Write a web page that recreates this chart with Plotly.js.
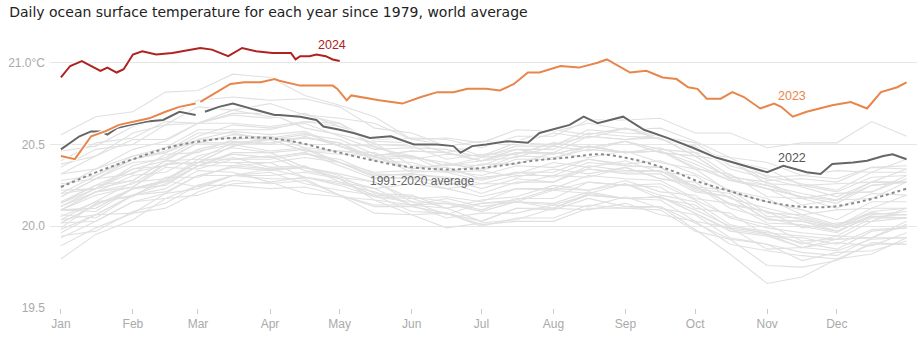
<!DOCTYPE html>
<html><head><meta charset="utf-8">
<script src="https://cdn.plot.ly/plotly-3.0.1.min.js"></script>
<style>html,body{margin:0;padding:0;background:#fff}#chart{width:917px;height:351px}</style>
</head><body><div id="chart"></div>
<script>
// ---- tick labels ----
const monthDays = [1, 32, 60, 91, 121, 152, 182, 213, 244, 274, 305, 335];
const monthNames = ["Jan","Feb","Mar","Apr","May","Jun","Jul","Aug","Sep","Oct","Nov","Dec"];
const yTickVals = [19.5, 20.0, 20.5, 21.0];
const yTickText = ["19.5", "20.0", "20.5", "21.0°C"];

// ---- grey years (semi-monthly readings) ----
const greyDays = [1,16,32,46,60,75,91,106,121,136,152,167,182,197,213,228,244,259,274,289,305,320,335,350,365];
const g1979 = [19.99,20.14,20.19,20.28,20.24,20.31,20.35,20.30,20.26,20.21,20.13,20.17,20.12,20.15,20.11,20.19,20.17,20.18,20.08,19.97,19.94,19.87,19.90,19.88,19.96];
const g1980 = [20.07,20.05,20.19,20.23,20.34,20.33,20.27,20.30,20.25,20.18,20.15,20.07,20.14,20.15,20.22,20.20,20.26,20.17,20.13,19.99,19.96,19.94,19.92,20.03,20.05];
const g1981 = [19.93,20.03,20.15,20.17,20.25,20.31,20.29,20.29,20.19,20.13,20.13,20.11,20.03,20.11,20.11,20.20,20.17,20.16,20.03,19.99,19.86,19.87,19.85,19.92,19.93];
const g1982 = [19.80,19.95,20.04,20.17,20.19,20.26,20.27,20.20,20.18,20.16,20.07,20.08,20.03,20.11,20.10,20.17,20.12,20.12,19.98,19.83,19.65,19.69,19.80,19.83,19.93];
const g1983 = [20.10,20.09,20.23,20.28,20.39,20.39,20.35,20.36,20.29,20.16,20.13,20.05,20.08,20.08,20.13,20.12,20.18,20.11,20.07,19.93,19.89,19.84,19.82,19.93,19.93];
const g1984 = [19.88,19.99,20.08,20.11,20.21,20.28,20.26,20.28,20.19,20.12,20.12,20.08,20.00,20.05,20.05,20.13,20.11,20.10,19.97,19.92,19.76,19.75,19.79,19.90,19.89];
const g1985 = [19.96,20.07,20.08,20.20,20.23,20.31,20.33,20.26,20.22,20.19,20.09,20.08,20.01,20.03,20.03,20.11,20.11,20.12,20.02,19.92,19.89,19.79,19.84,19.85,19.91];
const g1986 = [20.02,20.03,20.15,20.20,20.31,20.31,20.31,20.33,20.29,20.18,20.17,20.11,20.14,20.16,20.23,20.22,20.28,20.21,20.19,20.05,19.99,19.96,19.94,20.05,20.05];
const g1987 = [20.10,20.21,20.31,20.33,20.43,20.48,20.45,20.47,20.39,20.31,20.32,20.30,20.26,20.31,20.31,20.39,20.37,20.36,20.24,20.22,20.08,20.07,20.01,20.08,20.07];
const g1988 = [20.15,20.25,20.28,20.40,20.37,20.45,20.45,20.36,20.32,20.27,20.15,20.14,20.09,20.15,20.13,20.19,20.17,20.18,20.08,19.98,19.95,19.87,19.92,19.93,20.01];
const g1989 = [19.94,19.97,20.09,20.14,20.25,20.25,20.23,20.24,20.19,20.08,20.07,19.99,20.02,20.04,20.11,20.10,20.14,20.07,20.03,19.89,19.85,19.82,19.80,19.89,19.89];
const g1990 = [20.04,20.15,20.27,20.29,20.39,20.44,20.42,20.45,20.37,20.29,20.30,20.27,20.20,20.27,20.27,20.35,20.32,20.32,20.21,20.18,20.04,20.03,19.99,20.06,20.05];
const g1991 = [20.10,20.11,20.23,20.28,20.39,20.39,20.39,20.42,20.39,20.30,20.29,20.23,20.26,20.26,20.31,20.30,20.36,20.29,20.27,20.13,20.09,20.04,20.00,20.09,20.11];
const g1992 = [20.10,20.21,20.24,20.36,20.35,20.41,20.43,20.34,20.30,20.27,20.17,20.18,20.15,20.23,20.22,20.27,20.25,20.26,20.16,20.06,20.01,19.91,19.92,19.93,20.03];
const g1993 = [20.04,20.07,20.19,20.26,20.37,20.37,20.35,20.36,20.31,20.20,20.19,20.11,20.16,20.18,20.25,20.22,20.26,20.19,20.15,20.01,19.95,19.90,19.86,19.97,19.99];
const g1994 = [19.98,20.07,20.19,20.21,20.31,20.36,20.34,20.36,20.29,20.23,20.26,20.23,20.18,20.23,20.23,20.31,20.29,20.28,20.17,20.14,20.02,20.01,19.97,20.06,20.05];
const g1995 = [20.14,20.25,20.35,20.37,20.46,20.50,20.46,20.48,20.39,20.31,20.32,20.29,20.23,20.29,20.27,20.37,20.34,20.34,20.22,20.18,20.04,20.03,19.97,20.06,20.07];
const g1996 = [20.06,20.15,20.18,20.30,20.30,20.37,20.39,20.30,20.27,20.23,20.13,20.14,20.09,20.15,20.14,20.21,20.17,20.18,20.10,20.00,19.97,19.89,19.94,19.93,20.01];
const g1997 = [20.10,20.19,20.24,20.38,20.39,20.49,20.55,20.50,20.50,20.49,20.41,20.44,20.43,20.51,20.50,20.55,20.53,20.56,20.48,20.40,20.35,20.25,20.26,20.27,20.35];
const g1998 = [20.38,20.43,20.57,20.62,20.73,20.71,20.67,20.68,20.63,20.48,20.43,20.33,20.34,20.30,20.35,20.32,20.36,20.29,20.25,20.11,20.05,20.00,19.96,20.07,20.09];
const g1999 = [20.02,20.13,20.23,20.27,20.37,20.42,20.36,20.37,20.27,20.19,20.18,20.15,20.10,20.17,20.17,20.27,20.25,20.24,20.11,20.08,19.94,19.93,19.89,19.98,19.99];
const g2001 = [20.18,20.29,20.32,20.44,20.45,20.53,20.55,20.48,20.46,20.43,20.33,20.34,20.31,20.37,20.36,20.41,20.38,20.40,20.32,20.22,20.17,20.07,20.10,20.11,20.19];
const g2002 = [20.22,20.23,20.37,20.42,20.53,20.54,20.53,20.56,20.53,20.44,20.43,20.37,20.40,20.42,20.49,20.46,20.52,20.47,20.45,20.31,20.25,20.20,20.16,20.27,20.27];
const g2003 = [20.24,20.35,20.43,20.45,20.53,20.58,20.56,20.58,20.49,20.41,20.42,20.39,20.34,20.41,20.41,20.49,20.45,20.46,20.35,20.32,20.18,20.17,20.11,20.20,20.19];
const g2005 = [20.26,20.29,20.41,20.46,20.57,20.57,20.53,20.54,20.51,20.40,20.39,20.33,20.38,20.38,20.45,20.42,20.46,20.39,20.35,20.21,20.15,20.10,20.04,20.15,20.15];
const g2006 = [20.14,20.23,20.28,20.40,20.41,20.51,20.53,20.46,20.46,20.45,20.35,20.38,20.35,20.43,20.42,20.47,20.45,20.48,20.40,20.30,20.27,20.17,20.20,20.21,20.31];
const g2008 = [20.10,20.11,20.23,20.28,20.41,20.41,20.41,20.44,20.41,20.32,20.31,20.25,20.30,20.32,20.39,20.36,20.40,20.33,20.31,20.17,20.11,20.06,20.00,20.11,20.11];
const g2009 = [20.12,20.23,20.33,20.37,20.47,20.52,20.50,20.55,20.49,20.43,20.46,20.45,20.40,20.45,20.45,20.55,20.53,20.54,20.43,20.40,20.26,20.25,20.21,20.30,20.31];
const g2010 = [20.40,20.51,20.54,20.64,20.63,20.69,20.69,20.60,20.56,20.51,20.37,20.36,20.29,20.33,20.30,20.35,20.33,20.34,20.24,20.14,20.09,19.99,20.02,20.03,20.11];
const g2011 = [20.02,20.13,20.23,20.25,20.37,20.44,20.42,20.45,20.39,20.33,20.34,20.33,20.28,20.33,20.33,20.41,20.37,20.36,20.23,20.20,20.06,20.05,19.99,20.08,20.07];
const g2012 = [20.12,20.21,20.26,20.38,20.39,20.49,20.53,20.46,20.44,20.43,20.35,20.38,20.37,20.45,20.44,20.49,20.45,20.46,20.38,20.28,20.23,20.13,20.16,20.17,20.27];
const g2013 = [20.20,20.23,20.35,20.40,20.51,20.51,20.51,20.54,20.51,20.42,20.43,20.37,20.42,20.44,20.51,20.48,20.52,20.45,20.43,20.29,20.23,20.18,20.16,20.25,20.27];
const g2014 = [20.28,20.31,20.43,20.48,20.59,20.59,20.59,20.64,20.63,20.52,20.51,20.45,20.50,20.50,20.57,20.54,20.60,20.55,20.51,20.37,20.31,20.26,20.22,20.33,20.33];
const g2015 = [20.32,20.43,20.53,20.53,20.63,20.68,20.66,20.69,20.61,20.53,20.54,20.53,20.48,20.55,20.55,20.65,20.65,20.66,20.57,20.57,20.48,20.51,20.51,20.64,20.55];
const g2016 = [20.56,20.67,20.70,20.82,20.83,20.93,20.91,20.80,20.74,20.67,20.53,20.50,20.43,20.47,20.44,20.49,20.45,20.46,20.36,20.28,20.25,20.17,20.20,20.21,20.29];
const g2017 = [20.32,20.35,20.47,20.52,20.63,20.63,20.61,20.64,20.61,20.50,20.49,20.41,20.44,20.44,20.51,20.48,20.52,20.45,20.43,20.29,20.23,20.18,20.14,20.25,20.27];
const g2018 = [20.18,20.29,20.39,20.41,20.51,20.56,20.54,20.57,20.49,20.43,20.46,20.45,20.40,20.47,20.47,20.57,20.55,20.54,20.43,20.40,20.28,20.29,20.27,20.36,20.37];
const g2019 = [20.36,20.47,20.50,20.62,20.63,20.71,20.75,20.68,20.66,20.63,20.53,20.54,20.51,20.59,20.58,20.63,20.59,20.60,20.52,20.42,20.39,20.31,20.34,20.33,20.41];
const g2020 = [20.46,20.49,20.61,20.66,20.77,20.79,20.77,20.78,20.73,20.60,20.57,20.49,20.52,20.52,20.59,20.56,20.60,20.53,20.49,20.35,20.29,20.24,20.18,20.27,20.27];
const g2021 = [20.20,20.31,20.41,20.45,20.55,20.62,20.60,20.63,20.55,20.47,20.48,20.47,20.42,20.49,20.49,20.59,20.57,20.56,20.45,20.42,20.30,20.31,20.29,20.36,20.35];
const greyYears = [g1979,g1980,g1981,g1982,g1983,g1984,g1985,g1986,g1987,g1988,g1989,g1990,g1991,g1992,g1993,g1994,g1995,g1996,g1997,g1998,g1999,g2001,g2002,g2003,g2005,g2006,g2008,g2009,g2010,g2011,g2012,g2013,g2014,g2015,g2016,g2017,g2018,g2019,g2020,g2021];

// ---- 1991-2020 average ----
const avgDays = [1,18,32,47,61,75,90,104,118,133,147,161,176,190,204,219,233,247,262,276,290,305,319,333,348,365];
const avgVals = [20.24,20.34,20.41,20.48,20.52,20.54,20.54,20.51,20.46,20.41,20.37,20.35,20.35,20.37,20.40,20.42,20.44,20.41,20.35,20.27,20.21,20.15,20.12,20.12,20.16,20.23];

// ---- 2022 ----
const days2022 = [1,4,9,14,18,21,25,31,38,45,52,59,60,63,69,75,80,87,93,95,104,111,114,121,127,134,143,153,163,170,173,178,184,193,202,207,215,220,226,232,243,252,262,273,283,293,305,312,322,328,333,342,348,355,359,365];
const vals2022 = [20.47,20.50,20.55,20.58,20.58,20.56,20.60,20.62,20.64,20.65,20.70,20.68,null,20.70,20.73,20.75,20.73,20.70,20.68,20.68,20.67,20.65,20.61,20.59,20.57,20.54,20.55,20.50,20.50,20.49,20.45,20.49,20.50,20.52,20.51,20.57,20.60,20.62,20.67,20.63,20.67,20.59,20.54,20.48,20.42,20.38,20.33,20.37,20.33,20.32,20.38,20.39,20.40,20.43,20.44,20.41];

// ---- 2023 ----
const days2023 = [1,7,14,20,26,33,39,46,52,59,60,61,67,74,80,87,93,95,104,113,118,120,124,126,133,138,148,156,163,170,176,184,190,196,202,207,216,224,232,236,246,253,260,266,271,275,279,285,290,295,302,308,311,316,322,333,341,348,354,361,365];
const vals2023 = [20.43,20.41,20.55,20.58,20.62,20.64,20.66,20.70,20.73,20.75,null,20.76,20.81,20.87,20.88,20.88,20.90,20.89,20.86,20.86,20.86,20.84,20.77,20.80,20.78,20.77,20.75,20.79,20.82,20.82,20.84,20.84,20.83,20.87,20.94,20.94,20.98,20.97,21.00,21.02,20.94,20.95,20.91,20.90,20.85,20.84,20.78,20.78,20.82,20.79,20.72,20.75,20.73,20.67,20.70,20.74,20.76,20.72,20.82,20.85,20.88];

// ---- 2024 ----
const days2024 = [1,5,10,15,18,21,25,28,32,36,42,49,56,61,66,73,79,85,92,100,102,104,108,111,115,118,121];
const vals2024 = [20.91,20.98,21.01,20.97,20.95,20.97,20.94,20.96,21.05,21.07,21.05,21.06,21.08,21.09,21.08,21.04,21.09,21.07,21.06,21.06,21.02,21.04,21.04,21.05,21.04,21.02,21.01];

const traces = [];
greyYears.forEach(v => traces.push({x: greyDays, y: v, type: 'scatter', mode: 'lines',
  line: {color: '#e0e0e0', width: 1.1}, hoverinfo: 'skip', showlegend: false}));
traces.push({x: avgDays, y: avgVals, type: 'scatter', mode: 'lines', line: {color: '#8a8a8a', width: 2, dash: 'dot', shape: 'spline'}, showlegend: false});
[[days2022, vals2022, '#666666'], [days2023, vals2023, '#e8854a'], [days2024, vals2024, '#ae2320']].forEach(s => {
  traces.push({x: s[0], y: s[1], type: 'scatter', mode: 'lines', line: {color: '#ffffff', width: 4}, showlegend: false, hoverinfo: 'skip'});
  traces.push({x: s[0], y: s[1], type: 'scatter', mode: 'lines', line: {color: s[2], width: 2}, showlegend: false});
});

const font = "'Liberation Sans', Arial, sans-serif";
const layout = {
  width: 917, height: 351,
  margin: {l: 50, r: 0, t: 30, b: 43},
  paper_bgcolor: '#fff', plot_bgcolor: '#fff',
  font: {family: font, color: '#aaa', size: 12},
  title: {text: 'Daily ocean surface temperature for each year since 1979, world average',
    x: 0.01, xanchor: 'left', y: 0.965, yanchor: 'middle', font: {family: "'DejaVu Sans', sans-serif", size: 14, color: '#222'}},
  xaxis: {range: [-3.7, 369.5], tickvals: monthDays, ticktext: monthNames, showgrid: false, zeroline: false,
    ticks: 'outside', ticklen: 5, tickcolor: '#ccc', showline: false, tickfont: {color: '#aaa', size: 12}, fixedrange: true},
  yaxis: {range: [19.5, 21.2], tickvals: yTickVals, ticktext: yTickText, showgrid: true, gridcolor: '#e6e6e6',
    zeroline: false, ticks: '', ticklabelstandoff: 4, tickfont: {color: '#aaa', size: 12}, fixedrange: true},
  annotations: [
    {x: 117.7, y: 21.106, xref: 'x', yref: 'y', text: '2024', showarrow: false, font: {family: font, size: 12.5, color: '#ae2320'}},
    {x: 315.7, y: 20.794, xref: 'x', yref: 'y', text: '2023', showarrow: false, font: {family: font, size: 12.5, color: '#e8854a'}},
    {x: 315.7, y: 20.415, xref: 'x', yref: 'y', text: '2022', showarrow: false, font: {family: font, size: 12.5, color: '#555'}},
    {x: 156.4, y: 20.275, xref: 'x', yref: 'y', text: '1991-2020 average', showarrow: false, font: {family: font, size: 12, color: '#666'}}
  ]
};
Plotly.newPlot('chart', traces, layout, {displayModeBar: false, staticPlot: true});
</script></body></html>
